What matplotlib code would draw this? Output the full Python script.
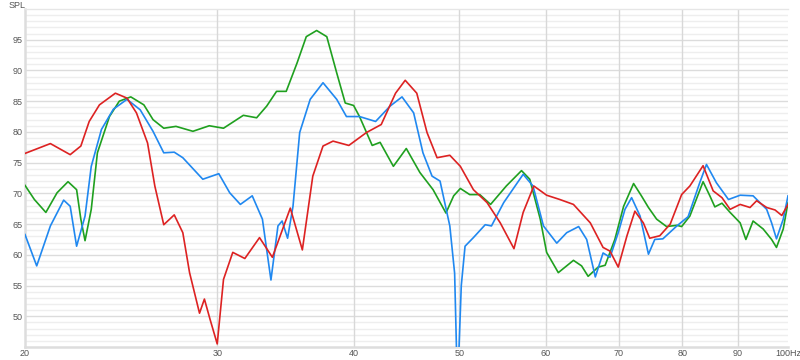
import numpy as np
import matplotlib
matplotlib.use("Agg")
import matplotlib.pyplot as plt

# frequenze (Hz) e livelli (dB SPL)
red_f = [20.0, 21.1, 22.0, 22.5, 22.9, 23.4, 24.2, 24.8, 25.3, 25.9, 26.3, 26.8,
         27.4, 27.9, 28.3, 28.9, 29.2, 29.55, 30.0, 30.4, 31.0, 31.8, 32.8, 33.7,
         35.0, 35.9, 36.7, 37.5, 38.3, 39.6, 41.1, 42.4, 43.7, 44.6, 45.7, 46.7,
         47.7, 49.0, 50.1, 51.5, 53.0, 54.5, 56.1, 57.2, 58.5, 60.1, 61.8, 63.6,
         65.9, 67.7, 68.7, 69.9, 71.2, 72.4, 73.7, 74.7, 76.3, 78.0, 79.9, 81.3,
         83.6, 85.4, 87.0, 88.5, 90.4, 92.3, 93.6, 95.6, 97.3, 98.7, 100.0]
red_db = [76.5, 78.1, 76.3, 77.7, 81.7, 84.4, 86.3, 85.5, 83.1, 78.2, 71.2, 64.9,
          66.5, 63.6, 57.1, 50.5, 52.8, 49.5, 45.5, 56.0, 60.4, 59.4, 62.8, 59.6,
          67.6, 60.8, 72.8, 77.7, 78.5, 77.8, 79.9, 81.2, 86.3, 88.4, 86.3, 79.9,
          75.8, 76.2, 74.4, 70.6, 68.5, 65.2, 61.0, 66.9, 71.2, 69.7, 69.0, 68.2,
          65.2, 61.2, 60.6, 58.0, 63.1, 67.1, 65.2, 62.7, 63.1, 65.0, 69.8, 71.2,
          74.5, 70.4, 69.3, 67.4, 68.2, 67.7, 68.8, 67.7, 67.3, 66.4, 68.2]

blue_f = [20.0, 20.5, 21.1, 21.7, 22.0, 22.3, 22.7, 23.0, 23.5, 24.1, 24.8, 25.5,
          26.2, 26.8, 27.4, 27.9, 29.1, 30.1, 30.8, 31.5, 32.3, 33.0, 33.6, 34.1,
          34.4, 34.8, 35.2, 35.7, 36.5, 37.5, 38.6, 39.4, 40.5, 41.9, 43.2, 44.3,
          45.4, 46.3, 47.2, 48.0, 49.0, 49.5, 49.8, 50.2, 50.6, 51.5, 52.8, 53.5,
          54.9, 57.2, 58.4, 59.7, 61.4, 62.7, 64.3, 65.4, 66.6, 67.7, 68.7, 69.9,
          70.9, 71.9, 73.2, 74.5, 75.5, 76.8, 79.1, 81.0, 83.0, 84.2, 86.0, 88.2,
          90.4, 92.9, 95.6, 96.6, 97.6, 99.0, 100.0]
blue_db = [63.3, 58.2, 64.7, 68.9, 67.9, 61.4, 66.3, 74.4, 80.4, 83.7, 85.3, 83.6,
           80.1, 76.6, 76.7, 75.8, 72.3, 73.2, 70.1, 68.2, 69.6, 65.8, 55.9, 64.7,
           65.5, 62.7, 67.9, 79.9, 85.3, 88.0, 85.3, 82.5, 82.5, 81.7, 84.2, 85.7,
           83.1, 76.6, 72.8, 72.0, 64.7, 57.0, 38.0, 55.0, 61.4, 62.8, 64.9, 64.7,
           68.5, 73.1, 71.2, 64.7, 61.9, 63.6, 64.6, 62.5, 56.4, 60.3, 59.6, 63.6,
           67.4, 69.3, 66.3, 60.1, 62.5, 62.6, 64.7, 66.2, 71.7, 74.7, 71.7, 69.0,
           69.7, 69.6, 67.4, 65.2, 62.6, 65.8, 69.6]

green_f = [20.0, 20.4, 20.9, 21.4, 21.9, 22.3, 22.5, 22.7, 23.0, 23.3, 23.9, 24.4,
           25.0, 25.7, 26.2, 26.8, 27.5, 28.5, 29.5, 30.4, 31.7, 32.6, 33.3, 34.0,
           34.7, 35.5, 36.2, 37.0, 37.8, 38.6, 39.3, 40.0, 40.5, 41.6, 42.3, 43.5,
           44.7, 46.0, 47.3, 48.6, 49.4, 50.1, 51.1, 52.2, 53.4, 55.2, 57.0, 58.0,
           59.3, 60.1, 61.6, 63.6, 64.7, 65.6, 67.0, 68.0, 69.4, 70.7, 72.2, 73.4,
           74.5, 75.8, 77.4, 79.1, 79.9, 81.3, 83.6, 84.8, 85.7, 87.0, 88.5, 90.4,
           91.5, 92.9, 94.9, 96.6, 97.6, 99.0, 100.0]
green_db = [71.3, 69.0, 66.9, 70.1, 71.9, 70.6, 65.8, 62.3, 67.4, 76.6, 82.5, 85.0,
            85.7, 84.4, 82.0, 80.6, 80.9, 80.1, 81.0, 80.6, 82.7, 82.3, 84.2, 86.6,
            86.6, 91.2, 95.5, 96.5, 95.5, 89.6, 84.7, 84.3, 82.5, 77.8, 78.3, 74.4,
            77.3, 73.4, 70.6, 66.8, 69.6, 70.8, 69.8, 69.8, 68.2, 71.2, 73.7, 72.3,
            65.8, 60.4, 57.1, 59.1, 58.2, 56.5, 58.0, 58.3, 62.5, 67.9, 71.6, 69.6,
            67.7, 65.8, 64.6, 64.8, 64.6, 66.3, 71.9, 69.6, 67.8, 68.4, 66.9, 65.2,
            62.5, 65.5, 64.2, 62.5, 61.2, 64.2, 68.5]

x_ticks = [20, 30, 40, 50, 60, 70, 80, 90, 100]
x_labels = ["20", "30", "40", "50", "60", "70", "80", "90", "100Hz"]
y_ticks = [50, 55, 60, 65, 70, 75, 80, 85, 90, 95]

plt.rcParams['font.family'] = ['Liberation Sans', 'DejaVu Sans']

fig = plt.figure(figsize=(8, 3.6), dpi=100)
ax = fig.add_axes([25 / 800, 13 / 360, 763 / 800, 338 / 360])

ax.set_xscale('log')
ax.set_xlim(20, 100)
ax.set_ylim(45, 100)

# griglia: linee chiare ogni dB, piu' marcate ogni 5 dB
for v in range(46, 100):
    col = '#dcdcdc' if v % 5 == 0 else '#eeeeee'
    ax.axhline(v, color=col, lw=1.0, zorder=0)
for f in x_ticks[1:-1]:
    ax.axvline(f, color='#d8d8d8', lw=1.0, zorder=0)

ax.plot(green_f, green_db, color='#1fa01f', lw=1.2, zorder=3,
        solid_joinstyle='round')
ax.plot(blue_f, blue_db, color='#2088f0', lw=1.2, zorder=4,
        solid_joinstyle='round')
ax.plot(red_f, red_db, color='#dd2222', lw=1.2, zorder=5,
        solid_joinstyle='round')

ax.xaxis.set_minor_locator(matplotlib.ticker.NullLocator())
ax.set_xticks(x_ticks)
ax.set_xticklabels(x_labels)
ax.set_yticks(y_ticks)
ax.tick_params(axis='both', length=0, labelsize=6.5, colors='#555555')
ax.tick_params(axis='x', pad=1.5)
ax.tick_params(axis='y', pad=2)

for side in ['left', 'bottom']:
    ax.spines[side].set_color('#dddddd')
    ax.spines[side].set_linewidth(1.8)
ax.spines['top'].set_color('#e6e6e6')
ax.spines['top'].set_linewidth(1.0)
ax.spines['right'].set_visible(False)

fig.text(17 / 800, 1 - 6 / 360, "SPL", fontsize=6.5, color='#555555',
         ha='center', va='center')

fig.savefig('out.png', dpi=100)
